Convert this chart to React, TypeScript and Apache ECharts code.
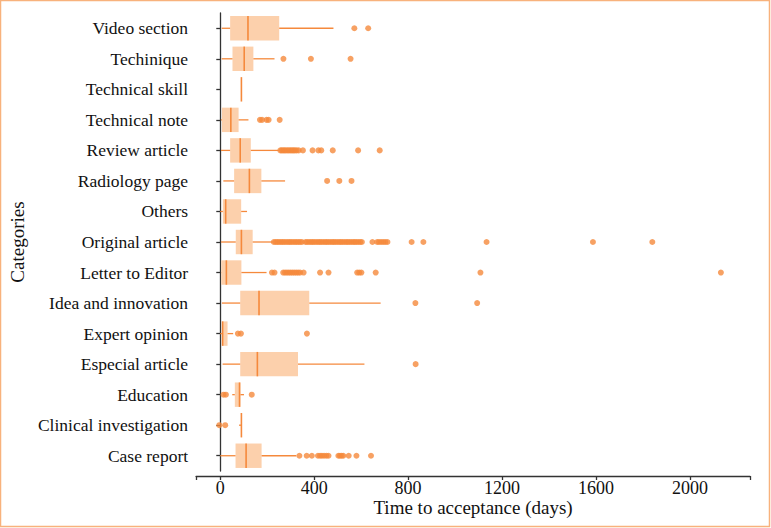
import React, { useEffect, useRef } from "react";
import * as echarts from "echarts";

// Article categories, listed top to bottom
const categories = [
  "Video section",
  "Techinique",
  "Technical skill",
  "Technical note",
  "Review article",
  "Radiology page",
  "Others",
  "Original article",
  "Letter to Editor",
  "Idea and innovation",
  "Expert opinion",
  "Especial article",
  "Education",
  "Clinical investigation",
  "Case report",
];

// [lower whisker, Q1, median, Q3, upper whisker] in days
const boxStats = [
  [6, 42, 118, 251, 482],
  [6, 52, 102, 141, 231],
  [90, 90, 90, 90, 90],
  [3, 7, 45, 78, 120],
  [3, 42, 85, 130, 249],
  [13, 59, 124, 175, 276],
  [0, 11, 23, 89, 114],
  [3, 66, 90, 138, 224],
  [3, 4, 26, 90, 197],
  [7, 85, 165, 379, 683],
  [0, 7, 10, 31, 55],
  [10, 85, 158, 331, 614],
  [51, 62, 82, 86, 101],
  [80, 89, 90, 90, 90],
  [0, 65, 110, 176, 324],
];

// Outlying acceptance times (days) per category
const outliers = [
  [571, 630],
  [269, 386, 555],
  [],
  [169, 178, 197, 206, 253],
  [256, 262, 268, 274, 280, 287, 293, 300, 306, 312, 318, 325, 334, 352, 393, 418, 430, 479, 587, 679],
  [455, 507, 559],
  [],
  [
    228, 236, 243, 250, 258, 265, 272, 280, 288, 295, 302, 310, 318, 325, 333, 340, 348, 363, 370, 378,
    386, 393, 400, 408, 416, 423, 430, 438, 446, 453, 460, 468, 476, 483, 490, 498, 506, 513, 520, 528,
    536, 543, 550, 558, 566, 573, 580, 588, 596, 603, 648, 668, 676, 685, 694, 703, 712, 815, 865, 1134,
    1587, 1840,
  ],
  [220, 231, 268, 276, 284, 292, 300, 308, 316, 324, 332, 340, 355, 425, 461, 583, 592, 601, 662, 1108, 2132],
  [831, 1094],
  [75, 88, 369],
  [832],
  [14, 24, 134],
  [-4, 21],
  [337, 368, 390, 416, 425, 433, 442, 452, 461, 503, 510, 517, 524, 547, 580, 642],
];

const xTickLabels = [0, 400, 800, 1200, 1600, 2000];
const xMin = -103;
const xMax = 2256;

const ORANGE = "#F5893C";
const PEACH = "#FCD0AC";
const AXIS = "#333333";
const TEXT = "#111111";
const FONT = "Liberation Serif";

export default function App() {
  const ref = useRef<HTMLDivElement>(null);

  useEffect(() => {
    if (!ref.current) return;
    const chart = echarts.init(ref.current, undefined, { renderer: "svg" });

    const boxData = boxStats.map((s, i) => [i, ...s]);
    const outlierData: number[][] = [];
    outliers.forEach((vals, i) => vals.forEach((v) => outlierData.push([v, i])));

    const renderBox = (params: any, api: any) => {
      const idx = api.value(0);
      const low = api.value(1);
      const q1 = api.value(2);
      const med = api.value(3);
      const q3 = api.value(4);
      const high = api.value(5);
      const band = api.size([0, 1])[1];
      const h = band * 0.8;
      const pLow = api.coord([low, idx]);
      const pQ1 = api.coord([q1, idx]);
      const pMed = api.coord([med, idx]);
      const pQ3 = api.coord([q3, idx]);
      const pHigh = api.coord([high, idx]);
      const y = pMed[1];
      const lineStyle = { stroke: ORANGE, lineWidth: 1.3, fill: null };
      return {
        type: "group",
        children: [
          {
            type: "rect",
            shape: { x: pQ1[0], y: y - h / 2, width: pQ3[0] - pQ1[0], height: h },
            style: { fill: PEACH, stroke: null },
          },
          {
            type: "line",
            shape: { x1: pLow[0], y1: y, x2: pQ1[0], y2: y },
            style: lineStyle,
          },
          {
            type: "line",
            shape: { x1: pQ3[0], y1: y, x2: pHigh[0], y2: y },
            style: lineStyle,
          },
          {
            type: "line",
            shape: { x1: pMed[0], y1: y - h / 2, x2: pMed[0], y2: y + h / 2 },
            style: { stroke: ORANGE, lineWidth: 1.6, fill: null },
          },
        ],
      };
    };

    chart.setOption({
      animation: false,
      grid: { left: 195, right: 21, top: 13, bottom: 57, containLabel: false },
      xAxis: {
        type: "value",
        position: "bottom",
        min: xMin,
        max: xMax,
        offset: 5,
        name: "Time to acceptance (days)",
        nameLocation: "middle",
        nameGap: 23,
        nameMoveOverlap: false,
        nameTextStyle: { fontFamily: FONT, fontSize: 19, lineHeight: 17, color: TEXT },
        axisLine: { show: true, lineStyle: { color: AXIS, width: 1.3 } },
        axisTick: {
          show: true,
          length: 4,
          inside: false,
          lineStyle: { color: AXIS, width: 1.3 },
          customValues: [xMin, ...xTickLabels, xMax],
        },
        axisLabel: {
          fontFamily: FONT,
          fontSize: 18,
          lineHeight: 16,
          color: TEXT,
          margin: 4,
          customValues: xTickLabels,
          formatter: (v: number) => String(v),
        },
        splitLine: { show: false },
      },
      yAxis: {
        type: "category",
        data: categories,
        inverse: true,
        name: "Categories",
        nameLocation: "middle",
        nameGap: 168,
        nameTextStyle: { fontFamily: FONT, fontSize: 19, color: TEXT },
        axisLine: { show: true, lineStyle: { color: AXIS, width: 1.3 } },
        axisTick: { show: true, alignWithLabel: true, length: 4, lineStyle: { color: AXIS, width: 1.3 } },
        axisLabel: { fontFamily: FONT, fontSize: 17.5, color: TEXT, margin: 8 },
        splitLine: { show: false },
      },
      series: [
        {
          type: "custom",
          renderItem: renderBox,
          data: boxData,
          encode: { y: 0, x: [1, 2, 3, 4, 5] },
          z: 2,
        },
        {
          type: "scatter",
          data: outlierData,
          symbol: "circle",
          symbolSize: 6,
          itemStyle: { color: ORANGE },
          z: 3,
        },
      ],
      graphic: [
        {
          type: "rect",
          shape: { x: 0.5, y: 0.5, width: 769, height: 526 },
          style: { fill: null, stroke: "#F8B27C", lineWidth: 1.5 },
          silent: true,
        },
      ],
    });

    return () => chart.dispose();
  }, []);

  return (
    <div
      ref={ref}
      style={{ position: "absolute", left: 0, top: 0, width: 771, height: 528, background: "#fff" }}
    />
  );
}
